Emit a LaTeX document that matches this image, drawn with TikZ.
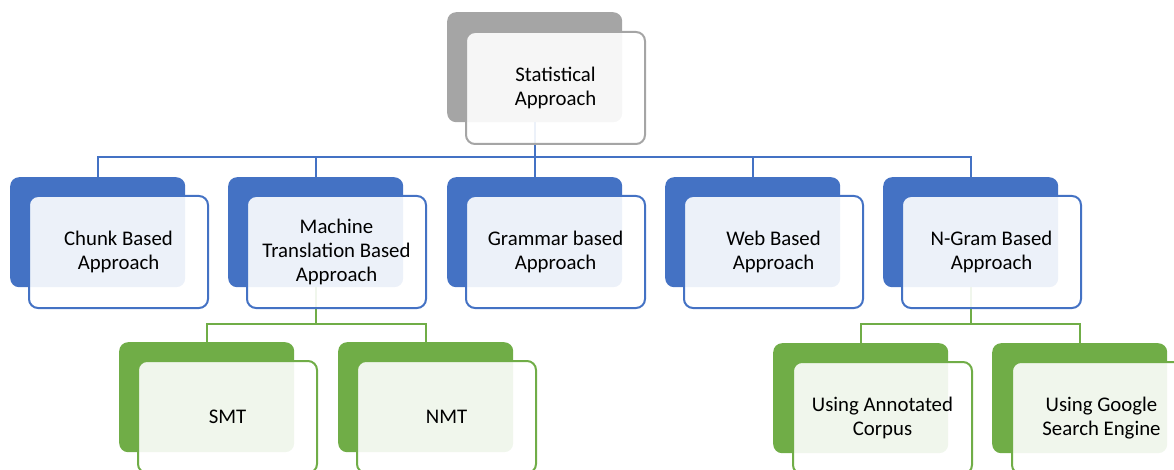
\documentclass[tikz,border=0pt]{standalone}
\usepackage{fontspec}
\setmainfont{Carlito}
\definecolor{cblue}{HTML}{4472C4}
\definecolor{cgreen}{HTML}{70AD47}
\definecolor{cgray}{HTML}{A5A5A5}
\begin{document}
\begin{tikzpicture}[x=1pt,y=-1pt,
  back/.style={rounded corners=9pt, fill=#1, minimum width=175pt, minimum height=110pt, inner sep=0pt, anchor=north west},
  front/.style={rounded corners=9pt, draw=#1, line width=2pt, fill=white, fill opacity=0.9, text opacity=1, minimum width=179pt, minimum height=112pt, anchor=north west, align=center, inner sep=0pt, font=\fontsize{20.8}{24}\selectfont, text=black},
  link/.style={draw=#1, line width=2pt}]
\useasboundingbox (0,0) rectangle (1174,470);
\clip (0,0) rectangle (1174,470);
% back boxes
\node[back=cgray] (statb) at (447,12) {};
\node[back=cblue] (chunkb) at (10,177) {};
\node[back=cblue] (mtb) at (228,177) {};
\node[back=cblue] (gramb) at (447,177) {};
\node[back=cblue] (webb) at (665,177) {};
\node[back=cblue] (ngramb) at (883,177) {};
\node[back=cgreen] (smtb) at (119,342) {};
\node[back=cgreen] (nmtb) at (338,342) {};
\node[back=cgreen] (annb) at (773,343) {};
\node[back=cgreen] (googb) at (992,343) {};
% connectors
\coordinate (bus1) at (0,157);
\coordinate (bus2) at (0,324);
\draw[link=cblue] (statb.south) -- (statb.south |- bus1);
\draw[link=cblue] (chunkb.north) |- (bus1 -| ngramb.north) -- (ngramb.north);
\draw[link=cblue] (mtb.north |- bus1) -- (mtb.north);
\draw[link=cblue] (gramb.north |- bus1) -- (gramb.north);
\draw[link=cblue] (webb.north |- bus1) -- (webb.north);
\draw[link=cgreen] (mtb.south) -- (mtb.south |- bus2);
\draw[link=cgreen] (smtb.north) |- (bus2 -| nmtb.north) -- (nmtb.north);
\draw[link=cgreen] (ngramb.south) -- (ngramb.south |- bus2);
\draw[link=cgreen] (annb.north) |- (bus2 -| googb.north) -- (googb.north);
% front boxes
\node[front=cgray] (stat) at (465,31) {Statistical\\Approach};
\node[front=cblue] (chunk) at (28,195) {Chunk Based\\Approach};
\node[front=cblue] (mt) at (246,195) {Machine\\Translation Based\\Approach};
\node[front=cblue] (gram) at (465,195) {Grammar based\\Approach};
\node[front=cblue] (web) at (683,195) {Web Based\\Approach};
\node[front=cblue] (ngram) at (901,195) {N-Gram Based\\Approach};
\node[front=cgreen] (smt) at (137,360) {SMT};
\node[front=cgreen] (nmt) at (356,360) {NMT};
\node[front=cgreen] (ann) at (792,361) {Using Annotated\\Corpus};
\node[front=cgreen] (goog) at (1011,361) {Using Google\\Search Engine};
\end{tikzpicture}
\end{document}
